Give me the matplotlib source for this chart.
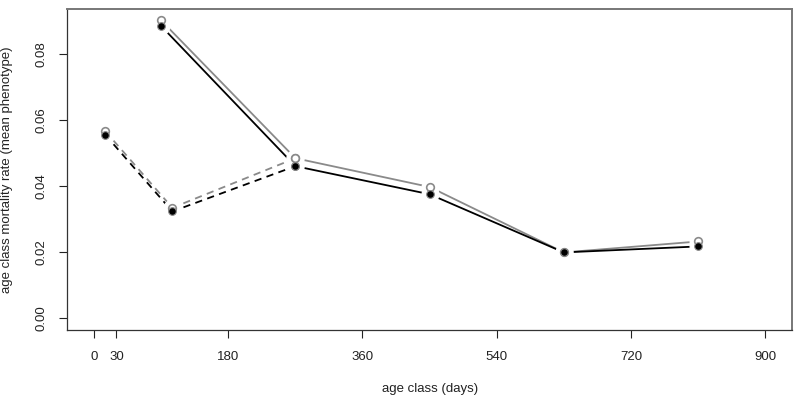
import matplotlib
matplotlib.use('Agg')
import matplotlib.pyplot as plt

# age class midpoints (days)
x_young = [15, 105, 270]
x_old = [90, 270, 450, 630, 810]

# mortality rate, filled (black) and open (gray) symbols
y_young_black = [0.0555, 0.0323, 0.0460]
y_young_gray = [0.0566, 0.0334, 0.0484]
y_old_black = [0.0884, 0.0460, 0.0375, 0.0199, 0.0217]
y_old_gray = [0.0901, 0.0484, 0.0397, 0.0199, 0.0232]

x_ticks = [0, 30, 180, 360, 540, 720, 900]
y_ticks = [0.00, 0.02, 0.04, 0.06, 0.08]

GRAY = '#8a8a8a'

plt.rcParams['font.family'] = ['Liberation Sans', 'DejaVu Sans']

fig = plt.figure(figsize=(8.0, 4.03), dpi=100)
ax = fig.add_axes([0.084, 0.181, 0.906, 0.797])

series = [
    (x_young, y_young_gray, GRAY, (0, (4, 3))),
    (x_old, y_old_gray, GRAY, '-'),
    (x_young, y_young_black, 'black', (0, (4, 3))),
    (x_old, y_old_black, 'black', '-'),
]

# lines first
for x, y, c, ls in series:
    ax.plot(x, y, color=c, linestyle=ls, linewidth=1.3, zorder=2)

# white halo around points gives the R type="b" gaps
for x, y, c, ls in series:
    ax.plot(x, y, linestyle='none', marker='o', markersize=12,
            markerfacecolor='white', markeredgecolor='white', zorder=3)

# the symbols
ax.plot(x_young, y_young_gray, 'o', markersize=5.5, markerfacecolor='white',
        markeredgecolor=GRAY, markeredgewidth=1.2, zorder=4)
ax.plot(x_old, y_old_gray, 'o', markersize=5.5, markerfacecolor='white',
        markeredgecolor=GRAY, markeredgewidth=1.2, zorder=4)
ax.plot(x_young, y_young_black, 'o', markersize=5.5, markerfacecolor='black',
        markeredgecolor=GRAY, markeredgewidth=0.8, zorder=5)
ax.plot(x_old, y_old_black, 'o', markersize=5.5, markerfacecolor='black',
        markeredgecolor=GRAY, markeredgewidth=0.8, zorder=5)

ax.set_xlim(-36, 936)
ax.set_ylim(-0.0036, 0.0936)

ax.set_xticks(x_ticks)
ax.set_xticklabels([str(t) for t in x_ticks])
ax.set_yticks(y_ticks)
ax.set_yticklabels([f'{t:.2f}' for t in y_ticks], rotation=90, va='center')

ax.tick_params(direction='out', length=6, width=0.8, labelsize=9.5,
               colors='#222222')
ax.tick_params(axis='x', pad=9)
ax.tick_params(axis='y', pad=8)

for side in ['left', 'bottom']:
    ax.spines[side].set_color('#333333')
    ax.spines[side].set_linewidth(0.9)
for side in ['top', 'right']:
    ax.spines[side].set_color('#777777')
    ax.spines[side].set_linewidth(1.4)

ax.set_xlabel('age class (days)', fontsize=9.5, color='#222222')
ax.set_ylabel('age class mortality rate (mean phenotype)', fontsize=9.5,
              color='#222222')
ax.xaxis.set_label_coords(0.5, -0.165)
ax.yaxis.set_label_coords(-0.075, 0.5)

fig.savefig('out.png', dpi=100)
